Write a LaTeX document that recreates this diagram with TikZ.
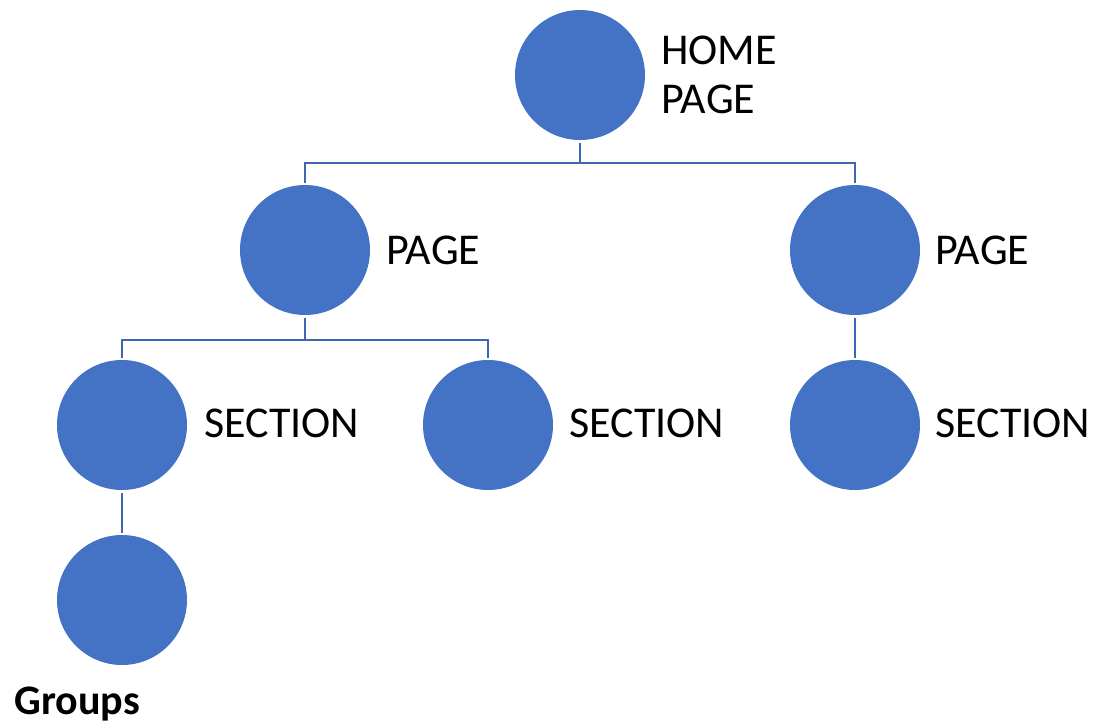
\documentclass[tikz,border=0pt]{standalone}
\usepackage{fontspec}
\setmainfont{Carlito}
\definecolor{nodeblue}{HTML}{4472C4}
\definecolor{lineblue}{HTML}{3F67B1}
\begin{document}
\begin{tikzpicture}[x=0.5pt,y=-0.5pt,
  dot/.style={circle,fill=nodeblue,draw=none,minimum size=65pt,inner sep=0pt},
  lbl/.style={anchor=base west,inner sep=0pt,font=\fontsize{22}{26}\selectfont},
  conn/.style={draw=lineblue,line width=1.4pt}]
\useasboundingbox (0,0) rectangle (1098,723);
\coordinate (b1) at (580,163);
\coordinate (b2) at (305,340);
\node[dot] (home) at (580,75) {};
\node[dot] (pl) at (305,250) {};
\node[dot] (pr) at (855,250) {};
\node[dot] (s1) at (122,425) {};
\node[dot] (s2) at (488,425) {};
\node[dot] (s3) at (855,425) {};
\node[dot] (g) at (122,600) {};
% connectors
\draw[conn] ([yshift=-1.5pt]home.south) -- (b1);
\draw[conn] ([yshift=1pt]pl.north) |- (pr.north |- b1) -- ([yshift=1pt]pr.north);
\draw[conn] ([yshift=-1.5pt]pl.south) -- (b2);
\draw[conn] ([yshift=1pt]s1.north) |- (s2.north |- b2) -- ([yshift=1pt]s2.north);
\draw[conn] ([yshift=-1.5pt]pr.south) -- ([yshift=1pt]s3.north);
\draw[conn] ([yshift=-1.5pt]s1.south) -- ([yshift=1pt]g.north);
% labels
\node[lbl] (t1) at (661,64) {HOME};
\node[lbl] (t2) at (661,113) {PAGE};
\node[lbl] (t3) at (386,264) {PAGE};
\node[lbl] (t4) at (935,264) {PAGE};
\node[lbl] (t5) at (204,437) {SECTION};
\node[lbl] (t6) at (569,437) {SECTION};
\node[lbl] (t7) at (935,437) {SECTION};
\node[anchor=base west,inner sep=0pt,font=\fontsize{21}{25}\selectfont\bfseries] (t8) at (14,714) {Groups};
\end{tikzpicture}
\end{document}
